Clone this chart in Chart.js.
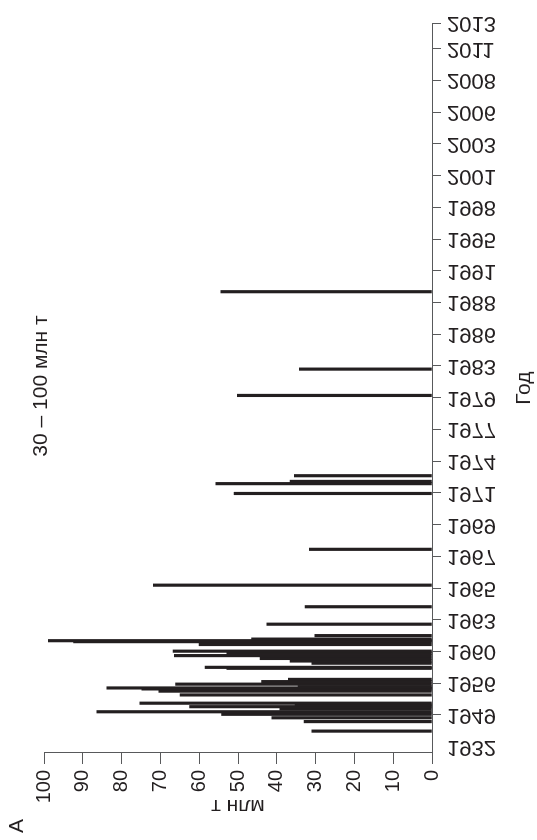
<!DOCTYPE html>
<html>
<head>
<meta charset="utf-8">
<script src="https://cdn.jsdelivr.net/npm/chart.js@4.4.1/dist/chart.umd.min.js"></script>
<style>
  html, body { margin: 0; padding: 0; background: #fff; }
  #wrap { position: relative; width: 537px; height: 840px; overflow: hidden; background: #fff; }
  #c { position: absolute; left: 0; top: 0; width: 840px; height: 537px;
       transform-origin: 0 0; transform: translateY(840px) rotate(-90deg); }
</style>
</head>
<body>
<div id="wrap"><canvas id="c" width="840" height="537"></canvas></div>
<script>
// ---- data ----
const yearLabels = ['1932','1949','1956','1960','1963','1965','1967','1969','1971','1974','1977','1979',
                    '1983','1986','1988','1991','1995','1998','2001','2003','2006','2008','2011','2013'];
const yearTickPos = [0,10,20,30,40,50,60,70,80,90,100,110,120,130,140,150,160,170,180,190,200,210,220,228];
const barPos = [4.9,7.9,9.1,10.2,11.0,11.9,12.6,13.1,13.7,16.3,17.5,18.2,18.5,18.9,19.7,20.5,21.2,
                24.7,25.0,26.3,27.0,27.8,28.7,29.5,30.1,32.2,33.1,33.4,33.9,35.0,38.6,44.1,50.9,62.2,
                79.8,82.9,83.6,85.4,110.7,119.0,143.4];
const barValues = [31.0,33.0,41.3,54.2,86.4,39.2,62.5,35.3,75.3,64.9,70.4,74.8,83.8,34.5,66.1,43.9,37.0,
                   52.9,58.5,31.0,36.6,44.3,66.4,52.9,66.7,60.0,92.4,98.9,46.5,30.2,42.6,32.7,71.8,31.6,
                   51.0,55.7,36.6,35.5,50.2,34.2,54.4];
const titleText = '30 – 100 млн т';
const valueAxisTitle = 'млн т';
const positionAxisTitle = 'Год';
const panelLetter = 'A';

// ---- styles ----
const FAMILY = '"Liberation Sans", Arial, Helvetica, sans-serif';
const INK = '#231f20';
const AXIS = '#58595b';

const extraText = {
  id: 'extraText',
  afterDraw(chart) {
    const ctx = chart.ctx;
    const xs = chart.scales.x;
    ctx.save();
    ctx.fillStyle = INK;
    // mirrored year labels under the position axis
    ctx.font = '22px ' + FAMILY;
    ctx.textAlign = 'left';
    ctx.textBaseline = 'middle';
    yearTickPos.forEach((v, i) => {
      const u = xs.getPixelForValue(v);
      ctx.save();
      ctx.setTransform(0, 1, 1, 0, u, xs.top + 15);
      ctx.fillText(yearLabels[i], 0, 0);
      ctx.restore();
    });
    // chart title
    ctx.font = '21px ' + FAMILY;
    ctx.textAlign = 'center';
    ctx.textBaseline = 'middle';
    ctx.fillText(titleText, 454, 41);
    // panel letter
    ctx.fillText(panelLetter, 14, 17);
    ctx.restore();
  }
};

new Chart(document.getElementById('c'), {
  type: 'bar',
  data: {
    datasets: [{
      data: barPos.map((p, i) => ({ x: p, y: barValues[i] })),
      backgroundColor: INK,
      borderWidth: 0,
      barThickness: 2.5
    }]
  },
  options: {
    responsive: false,
    animation: false,
    devicePixelRatio: 1,
    layout: { padding: { top: 44, right: 23.3, left: 0, bottom: 0 } },
    plugins: { legend: { display: false }, tooltip: { enabled: false }, title: { display: false } },
    scales: {
      x: {
        type: 'linear', position: 'bottom', min: -2, max: 228, offset: false,
        afterBuildTicks: s => { s.ticks = yearTickPos.map(v => ({ value: v })); },
        afterFit: s => { s.height = 105; },
        ticks: { display: false },
        grid: {
          display: true, drawOnChartArea: false, drawTicks: true, tickLength: 9, offset: false,
          tickColor: c => (c.tick && c.tick.value === yearTickPos[0]) ? 'rgba(0,0,0,0)' : AXIS
        },
        border: { display: true, color: AXIS, width: 1 },
        title: { display: true, text: positionAxisTitle, color: INK,
                 font: { size: 21, family: FAMILY, lineHeight: 1.2 }, padding: { top: 0, bottom: 0 } }
      },
      y: {
        type: 'linear', min: 0, max: 100,
        afterFit: s => { s.width = 87; },
        ticks: { stepSize: 10, color: INK, padding: 6, font: { size: 20, family: FAMILY } },
        grid: { display: true, drawOnChartArea: false, tickLength: 11, color: AXIS },
        border: { display: true, color: AXIS, width: 1 },
        title: { display: true, text: valueAxisTitle, color: INK,
                 font: { size: 21, family: FAMILY, lineHeight: 1.2 }, padding: { top: 22, bottom: 0 } }
      }
    }
  },
  plugins: [extraText]
});
</script>
</body>
</html>
